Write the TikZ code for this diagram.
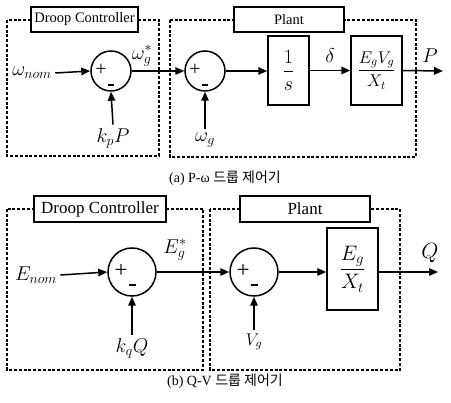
\RequirePackage{fix-cm}
\documentclass[tikz,border=0pt]{standalone}
\usepackage{amsmath}
\usepackage{fontspec}
\setmainfont{Liberation Serif}
\newfontfamily\krfont{Noto Sans CJK KR}
\usetikzlibrary{arrows.meta,positioning}

\tikzset{
  sumnode/.style={draw,circle,line width=1.5pt,inner sep=0pt},
  blockbox/.style={draw,rectangle,line width=1.5pt,inner sep=0pt},
  grpbox/.style={line width=1.6pt,dash pattern=on 3pt off 1.8pt},
  titlebox/.style={draw,fill=white,line width=1.3pt,inner sep=0pt},
  sig/.style={line width=1.5pt,-{Triangle[length=9pt,width=7.5pt]}},
  minusbar/.style={fill,minimum width=6pt,minimum height=2.6pt,inner sep=0pt},
  plussign/.style={inner sep=0pt,font=\fontsize{20}{20}\selectfont},
  captext/.style={font=\fontsize{14}{15}\selectfont},
}

\begin{document}
\begin{tikzpicture}[x=1pt,y=-1pt]
\useasboundingbox (0,0) rectangle (451,403);

% (a) P-omega
\draw[grpbox] (7,20) rectangle (159,156);
\draw[grpbox] (170,20) rectangle (416,157);
\node[titlebox,minimum width=107pt,minimum height=25pt,font=\fontsize{14.5}{16}\selectfont] (dctitle1) at (84.5,19.5) {Droop Controller};
\node[titlebox,minimum width=110pt,minimum height=25pt,font=\fontsize{14.5}{16}\selectfont] (pltitle1) at (289,19.5) {Plant};

\begin{scope}[every node/.append style={font=\fontsize{20}{24}\selectfont}]
\node[sumnode,minimum size=40pt] (sum1) at (111,71) {};
\node[sumnode,minimum size=40pt] (sum2) at (205,71) {};
\node[blockbox,minimum width=41pt,minimum height=69pt] (integ) at (288.5,70.5) {$\dfrac{1}{s}$};
\node[blockbox,minimum width=51pt,minimum height=69pt,font=\fontsize{17}{20}\selectfont] (pgain) at (376.5,70.5) {$\dfrac{E_gV_g}{X_t}$};
\node (wnom) at (32,73) {$\omega_{nom}$};
\node (kpP) at (113,138) {$k_pP$};
\node (wg) at (205,140) {$\omega_g$};
\node (wref) at (142,56) {$\omega_g^*$};
\node (delta) at (330,56) {$\delta$};
\node (pout) at (430,56) {$P$};
\end{scope}
\coordinate (pend) at (443,71);

\node[plussign] (plus1) at ([xshift=-10pt,yshift=1pt]sum1.center) {+};
\node[minusbar] (minus1) at ([yshift=-14pt]sum1.center) {};
\node[plussign] (plus2) at ([xshift=-10pt,yshift=1pt]sum2.center) {+};
\node[minusbar] (minus2) at ([yshift=-14pt]sum2.center) {};

\draw[sig] (wnom.east) -- (sum1.west);
\draw[sig] (kpP.north) -- (sum1.south);
\draw[sig] (sum1.east) -- (sum2.west);
\draw[sig] (wg.north) -- (sum2.south);
\draw[sig] (sum2.east) -- (sum2.east -| integ.west);
\draw[sig] (integ.east) -- (integ.east -| pgain.west);
\draw[sig] (pgain.east) -- (pend);

\node[captext] (capa) at (225,178) {(a) P-ω {\krfont 드룹 제어기}};

% (b) Q-V
\draw[grpbox] (7,209) rectangle (203,370);
\draw[grpbox] (210,209) rectangle (400,370);
\node[titlebox,minimum width=132pt,minimum height=26pt,font=\fontsize{17}{19}\selectfont] (dctitle2) at (100,209) {Droop Controller};
\node[titlebox,minimum width=130pt,minimum height=26pt,font=\fontsize{17}{19}\selectfont] (pltitle2) at (305,209) {Plant};

\begin{scope}[every node/.append style={font=\fontsize{20}{24}\selectfont}]
\node[sumnode,minimum size=48pt] (sum3) at (132,272) {};
\node[sumnode,minimum size=48pt] (sum4) at (254,272) {};
\node[blockbox,minimum width=51pt,minimum height=82pt,font=\fontsize{21}{24}\selectfont] (qgain) at (352.5,269) {$\dfrac{E_g}{X_t}$};
\node (enom) at (36,275) {$E_{nom}$};
\node (kqQ) at (132,348) {$k_qQ$};
\node[font=\fontsize{17}{20}\selectfont] (vg) at (254,342) {$V_g$};
\node (eref) at (175,250) {$E_g^*$};
\node[font=\fontsize{22}{24}\selectfont] (qout) at (430,253) {$Q$};
\end{scope}
\coordinate (qend) at (438,272);

\node[plussign,font=\fontsize{23}{23}\selectfont] (plus3) at ([xshift=-11pt,yshift=1pt]sum3.center) {+};
\node[minusbar,minimum width=7pt] (minus3) at ([yshift=-13pt]sum3.center) {};
\node[plussign,font=\fontsize{23}{23}\selectfont] (plus4) at ([xshift=-11pt,yshift=1pt]sum4.center) {+};
\node[minusbar,minimum width=7pt] (minus4) at ([yshift=-13pt]sum4.center) {};

\draw[sig] (enom.east) -- (sum3.west);
\draw[sig] (kqQ.north) -- (sum3.south);
\draw[sig] (sum3.east) -- (sum4.west);
\draw[sig] (vg.north) -- (sum4.south);
\draw[sig] (sum4.east) -- (sum4.east -| qgain.west);
\draw[sig] (sum4.east -| qgain.east) -- (qend);

\node[captext] (capb) at (225,381) {(b) Q-V {\krfont 드룹 제어기}};
\end{tikzpicture}
\end{document}
